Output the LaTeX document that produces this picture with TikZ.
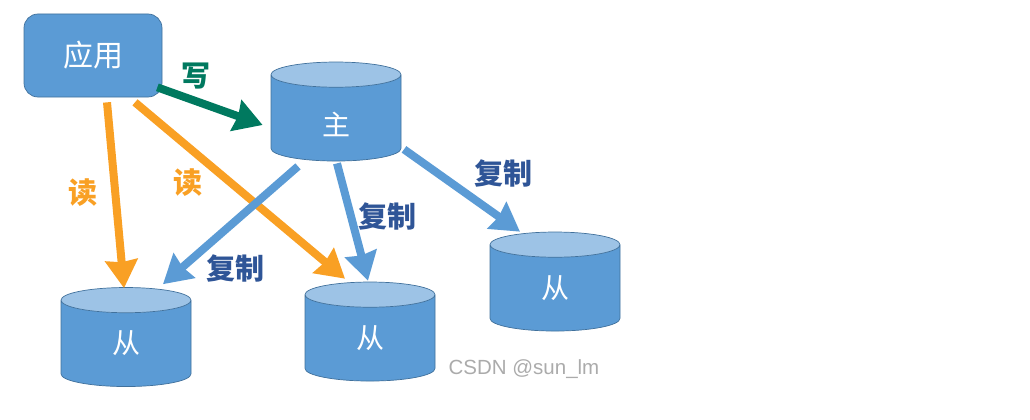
\documentclass[tikz,border=0pt]{standalone}
\usepackage{fontspec}
\setmainfont{Liberation Sans}
\newfontfamily\cjk{Noto Sans CJK SC}
\usetikzlibrary{shapes.geometric,arrows.meta}
\definecolor{boxblue}{HTML}{5B9BD5}
\definecolor{boxtop}{HTML}{9DC3E6}
\definecolor{boxline}{HTML}{41719C}
\definecolor{readorange}{HTML}{F9A024}
\definecolor{writegreen}{HTML}{00795F}
\definecolor{copyblue}{HTML}{2F5597}
\tikzset{
  dbnode/.style={cylinder, shape border rotate=90, shape aspect=0.9, draw=boxline, line width=0.7pt, cylinder uses custom fill, cylinder body fill=boxblue, cylinder end fill=boxtop, minimum width=130pt, minimum height=99pt, inner sep=0pt, text=white, font=\cjk\fontsize{28}{28}\selectfont},
  appnode/.style={draw=boxline, line width=0.7pt, fill=boxblue, rounded corners=14pt, minimum width=138pt, minimum height=83pt, inner sep=0pt, text=white, font=\cjk\fontsize{30}{30}\selectfont},
  flow/.style={line width=8pt, -{Stealth[inset=2pt,length=28pt,width=32pt]}},
  flowlabel/.style={inner sep=0pt, font=\cjk\bfseries\fontsize{29}{29}\selectfont}
}
\begin{document}
\begin{tikzpicture}[x=1pt,y=-1pt]
\useasboundingbox (0,0) rectangle (1030,420);
\node[appnode] (app) at (93,55.5) {应用}; % application
\node[dbnode] (master) at (336,118) {\raisebox{-7pt}[20pt][0pt]{主}}; % master
\node[dbnode] (slavea) at (126,343.5) {从}; % slaves
\node[dbnode] (slaveb) at (370,338) {从};
\node[dbnode] (slavec) at (555,288) {从};
\draw[flow, writegreen] ([shift={(-5pt,10pt)}]app.south east) -- ([shift={(-8pt,-7pt)}]master.west); % write
\draw[flow, readorange] ([shift={(14pt,-5pt)}]app.south) -- ([shift={(-2pt,-1pt)}]slavea.north); % reads
\draw[flow, readorange] ([shift={(42pt,-5pt)}]app.south) -- ([shift={(-25pt,3pt)}]slaveb.north);
\draw[flow, boxblue] ([shift={(-38pt,-5pt)}]master.south) -- ([shift={(37pt,3pt)}]slavea.north); % copies
\draw[flow, boxblue] ([shift={(1pt,-2pt)}]master.south) -- ([shift={(-2pt,1pt)}]slaveb.north);
\draw[flow, boxblue] ([shift={(68pt,12pt)}]master.south) -- ([shift={(-35pt,0pt)}]slavec.north);
\node[flowlabel, text=writegreen] (writelabel) at (195.5,76) {写};
\node[flowlabel, text=readorange] (readlabela) at (83,193) {读};
\node[flowlabel, text=readorange] (readlabelb) at (188,183) {读};
\node[flowlabel, text=copyblue] (copylabela) at (235.5,268) {复制};
\node[flowlabel, text=copyblue] (copylabelb) at (387.5,216) {复制};
\node[flowlabel, text=copyblue] (copylabelc) at (503.5,173) {复制};
\node[inner sep=0pt, text=black!33, font=\fontsize{20.5}{20.5}\selectfont] (mark) at (524,369) {CSDN @sun\_lm}; % watermark
\end{tikzpicture}
\end{document}
